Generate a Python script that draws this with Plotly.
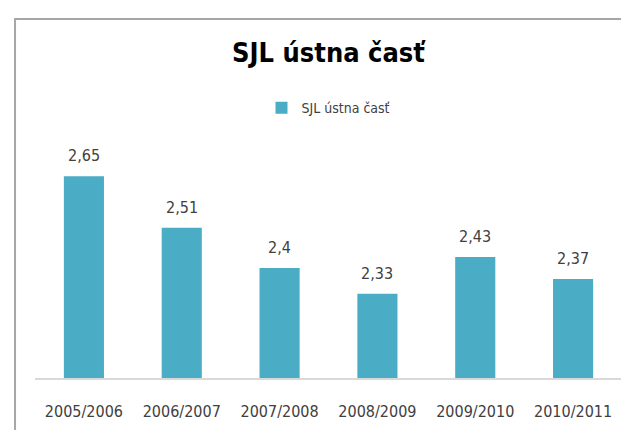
import plotly.graph_objects as go

categories = ["2005/2006", "2006/2007", "2007/2008", "2008/2009", "2009/2010", "2010/2011"]
values = [2.65, 2.51, 2.4, 2.33, 2.43, 2.37]
value_labels = ["2,65", "2,51", "2,4", "2,33", "2,43", "2,37"]
series_name = "SJL ústna časť"
title_text = "SJL ústna časť"

FONT = "DejaVu Sans Condensed, Liberation Sans Narrow, Arial Narrow, sans-serif"
BAR = "#4bacc6"
TXT = "#404040"

fig = go.Figure()
fig.add_trace(go.Bar(x=categories, y=values, name=series_name,
                     marker=dict(color=BAR, line=dict(width=0)),
                     showlegend=True))

for c, v, t in zip(categories, values, value_labels):
    fig.add_annotation(x=c, y=v, text=t, showarrow=False, yanchor="bottom",
                       yshift=9, font=dict(family=FONT, size=16, color=TXT))

# outer frame
fig.add_shape(type="rect", xref="paper", yref="paper",
              x0=-0.034, x1=1.05, y0=-0.4, y1=1.632,
              line=dict(color="#a6a6a6", width=2), layer="above")

fig.update_layout(
    width=629, height=430,
    margin=dict(l=27, r=15, t=150, b=60),
    paper_bgcolor="white", plot_bgcolor="white",
    bargap=0.59,
    title=dict(text="<b>" + title_text + "</b>", x=0.5, xref="paper",
               y=1 - 45 / 430, yref="container", yanchor="middle", xanchor="center",
               font=dict(family=FONT, size=27, color="#000000")),
    legend=dict(orientation="h", x=0.5, xanchor="center", y=1.227, yanchor="middle",
                font=dict(family=FONT, size=14, color=TXT), itemwidth=30),
    xaxis=dict(showgrid=False, showline=True, linecolor="#d9d9d9", linewidth=2,
               ticks="", ticklabelstandoff=18,
               tickfont=dict(family=FONT, size=16, color=TXT)),
    yaxis=dict(range=[2.1, 2.7], visible=False),
)

fig.write_html("out.html")
